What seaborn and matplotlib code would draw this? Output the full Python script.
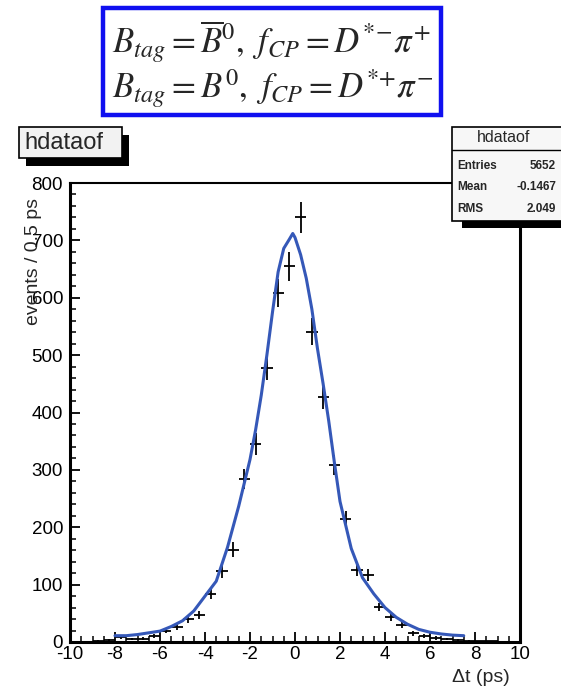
import numpy as np
import matplotlib
matplotlib.use("Agg")
import matplotlib.pyplot as plt
from matplotlib.patches import Rectangle
from matplotlib.ticker import MultipleLocator
import seaborn as sns

# ---- data ----
bin_centers = [-9.75, -9.25, -8.75, -8.25, -7.75, -7.25, -6.75, -6.25, -5.75, -5.25,
               -4.75, -4.25, -3.75, -3.25, -2.75, -2.25, -1.75, -1.25, -0.75, -0.25,
               0.25, 0.75, 1.25, 1.75, 2.25, 2.75, 3.25, 3.75, 4.25, 4.75,
               5.25, 5.75, 6.25, 6.75, 7.25, 7.75, 8.25, 8.75, 9.25, 9.75]
counts = [0, 0, 2, 3, 8, 5, 6, 10, 20, 26,
          40, 47, 84, 123, 161, 284, 345, 478, 608, 655,
          740, 541, 427, 308, 214, 126, 117, 61, 44, 30,
          15, 10, 7, 5, 3, 2, 1, 1, 0, 0]

fit_x = [-8, -7.5, -7, -6.5, -6, -5.5, -5, -4.5, -4, -3.5, -3, -2.5, -2, -1.75, -1.5,
         -1.25, -1, -0.75, -0.5, -0.25, -0.1, 0, 0.25, 0.5, 0.75, 1, 1.25, 1.5, 1.75,
         2, 2.5, 3, 3.5, 4, 4.5, 5, 5.5, 6, 6.5, 7, 7.5]
fit_y = [11, 11, 13, 16, 19, 27, 37, 54, 80, 106, 165, 237, 318, 370, 430,
         500, 575, 645, 686, 702, 712, 705, 675, 634, 580, 511, 450, 385, 313,
         245, 163, 112, 84, 60, 43, 31, 22, 17, 14, 12, 11]

x_ticks = [-10, -8, -6, -4, -2, 0, 2, 4, 6, 8, 10]
y_ticks = [0, 100, 200, 300, 400, 500, 600, 700, 800]

hist_name = "hdataof"
stats_labels = ["Entries", "Mean", "RMS"]
stats_values = ["5652", "-0.1467", "2.049"]
legend_line1 = r"$B_{tag} = \overline{B}^{0},\ f_{CP} = D^{*{-}}\pi^{+}$"
legend_line2 = r"$B_{tag} = B^{0},\ f_{CP} = D^{*{+}}\pi^{-}$"
x_label = "Δt (ps)"
y_label = "events / 0.5 ps"

# ---- figure ----
sns.set_theme(style="white")
plt.rcParams["font.family"] = ["Liberation Sans", "DejaVu Sans"]
plt.rcParams["mathtext.fontset"] = "stix"
plt.rcParams["axes.unicode_minus"] = False

W, H = 561, 688
fig = plt.figure(figsize=(W / 100, H / 100), dpi=100)
fig.patch.set_facecolor("white")


def fx(x):
    return x / W


def fy(y):
    return 1 - y / H


ax_l, ax_r, ax_t, ax_b = 70, 520, 183, 642
ax = fig.add_axes([fx(ax_l), fy(ax_b), (ax_r - ax_l) / W, (ax_b - ax_t) / H])
ax.set_facecolor("white")

# data points with error bars
ax.errorbar(bin_centers, counts, xerr=0.25, yerr=np.sqrt(counts), fmt="none",
            ecolor="black", elinewidth=1.3, capsize=0, zorder=3)
# fitted curve
sns.lineplot(x=fit_x, y=fit_y, ax=ax, color="#3558b8", lw=2.2, zorder=4)

ax.set_xlim(-10, 10)
ax.set_ylim(0, 800)
ax.set_xticks(x_ticks)
ax.set_yticks(y_ticks)
ax.xaxis.set_minor_locator(MultipleLocator(0.5))
ax.yaxis.set_minor_locator(MultipleLocator(20))
ax.tick_params(axis="both", which="major", direction="in", length=7.5, width=1.3,
               color="black", labelsize=13.5, labelcolor="black",
               bottom=True, left=True, top=False, right=False)
ax.tick_params(axis="both", which="minor", direction="in", length=4, width=1.1,
               color="black", bottom=True, left=True, top=False, right=False)
ax.tick_params(axis="y", which="major", pad=5)
ax.tick_params(axis="x", which="major", pad=3)
for side, lw in [("left", 2.2), ("bottom", 2.2), ("top", 1.5), ("right", 2.2)]:
    ax.spines[side].set_visible(True)
    ax.spines[side].set_color("black")
    ax.spines[side].set_linewidth(lw)
ax.grid(False)
ax.set_xlabel("")
ax.set_ylabel("")

# axis titles (ROOT style, aligned at the axis end)
fig.text(fx(510), fy(677), x_label, ha="right", va="center", fontsize=14)
fig.text(fx(33), fy(198), y_label, ha="center", va="top", rotation=90, fontsize=14)

# ---- title box (top left) ----
tb = (19, 127, 122, 158)
fig.patches.append(Rectangle((fx(tb[0] + 7), fy(tb[3] + 8)), (tb[2] - tb[0]) / W,
                             (tb[3] - tb[1]) / H, transform=fig.transFigure,
                             facecolor="black", edgecolor="none", zorder=5))
fig.patches.append(Rectangle((fx(tb[0]), fy(tb[3])), (tb[2] - tb[0]) / W,
                             (tb[3] - tb[1]) / H, transform=fig.transFigure,
                             facecolor="#f2f2f2", edgecolor="black", lw=1.2, zorder=6))
fig.text(fx(24), fy(143), hist_name, ha="left", va="center", fontsize=17, zorder=7)

# ---- stats box (top right) ----
sb = (452, 127, 566, 221)
fig.patches.append(Rectangle((fx(sb[0] + 10), fy(sb[3] + 7)), (sb[2] - sb[0]) / W,
                             (sb[3] - sb[1]) / H, transform=fig.transFigure,
                             facecolor="black", edgecolor="none", zorder=5))
fig.patches.append(Rectangle((fx(sb[0]), fy(sb[3])), (sb[2] - sb[0]) / W,
                             (sb[3] - sb[1]) / H, transform=fig.transFigure,
                             facecolor="#f7f7f7", edgecolor="black", lw=1.2, zorder=6))
fig.lines.append(plt.Line2D([fx(sb[0]), fx(sb[2])], [fy(150), fy(150)],
                            transform=fig.transFigure, color="black", lw=1.0, zorder=7))
fig.text(fx(504), fy(138), hist_name, ha="center", va="center", fontsize=11.5, zorder=8)
for i, (lab, val) in enumerate(zip(stats_labels, stats_values)):
    yy = [166, 187, 209][i]
    fig.text(fx(457), fy(yy), lab, ha="left", va="center", fontsize=8.5,
             fontweight="bold", zorder=8)
    fig.text(fx(556), fy(yy), val, ha="right", va="center", fontsize=8.5,
             fontweight="bold", zorder=8)

# ---- blue legend box at the top ----
lb = (103, 8, 441, 115)
fig.patches.append(Rectangle((fx(lb[0]), fy(lb[3])), (lb[2] - lb[0]) / W,
                             (lb[3] - lb[1]) / H, transform=fig.transFigure,
                             facecolor="white", edgecolor="#1010f0", lw=3.2, zorder=6))
fig.text(fx(112), fy(42), legend_line1, ha="left", va="center", fontsize=25, zorder=7)
fig.text(fx(112), fy(89), legend_line2, ha="left", va="center", fontsize=25, zorder=7)

fig.savefig("out.png", dpi=100, facecolor="white")
